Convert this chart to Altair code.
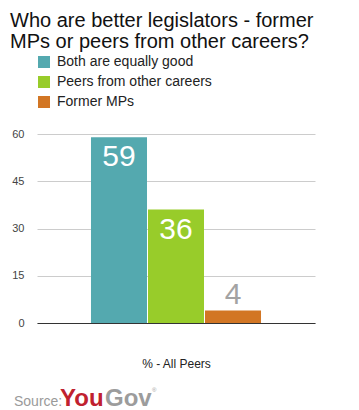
import altair as alt
import pandas as pd

# ---- data ----
categories = ["Both are equally good", "Peers from other careers", "Former MPs"]
values = [59, 36, 4]
colors = ["#54a9af", "#98cc2a", "#d27624"]
y_ticks = [0, 15, 30, 45, 60]
title_lines = ["Who are better legislators - former", "MPs or peers from other careers?"]
x_title = "% - All Peers"
source_label = ["Source:"]
brand_first = ["You"]
brand_second = ["Gov"]
brand_mark = ["®"]

FONT = "Liberation Sans"

df = pd.DataFrame({"category": categories, "value": values})
df["inside"] = df["value"] > 10

base = alt.Chart(df)

x_enc = alt.X(
    "category:N",
    sort=categories,
    scale=alt.Scale(domain=categories, paddingInner=0.0175, paddingOuter=0.947),
    axis=alt.Axis(
        labels=False, ticks=False, domain=True, domainColor="#333333", domainWidth=1,
        grid=False, title=x_title, titleFont=FONT, titleFontSize=12,
        titleFontWeight="normal", titleColor="#222222", titlePadding=35,
    ),
)
y_enc = alt.Y(
    "value:Q",
    scale=alt.Scale(domain=[0, 60], nice=False),
    axis=alt.Axis(
        values=y_ticks, title=None, domain=False, ticks=False, grid=True,
        gridColor="#cccccc", gridWidth=1, labelFont=FONT, labelFontSize=11,
        labelColor="#444444", labelPadding=13,
    ),
)

bars = base.mark_bar(stroke=None).encode(
    x=x_enc,
    y=y_enc,
    color=alt.Color(
        "category:N",
        scale=alt.Scale(domain=categories, range=colors),
        legend=alt.Legend(
            orient="none", legendX=0, legendY=-79, title=None, padding=0,
            symbolType="square", symbolSize=144, symbolStrokeWidth=0, symbolOpacity=1,
            labelFont=FONT, labelFontSize=14, labelColor="#222222", labelOffset=6,
            rowPadding=6, labelLimit=300,
        ),
    ),
)

inside_labels = base.transform_filter("datum.inside").mark_text(
    font=FONT, fontSize=30, color="#ffffff", baseline="top", dy=5
).encode(x=alt.X("category:N", sort=categories), y="value:Q", text="value:Q")

outside_labels = base.transform_filter("!datum.inside").mark_text(
    font=FONT, fontSize=30, color="#a3a3a3", baseline="alphabetic", dy=-6
).encode(x=alt.X("category:N", sort=categories), y="value:Q", text="value:Q")

src = alt.Chart(pd.DataFrame({"t": source_label})).mark_text(
    font=FONT, fontSize=14, color="#9a9a9a", align="left", baseline="alphabetic"
).encode(x=alt.value(-23), y=alt.value(272), text="t:N")

you = alt.Chart(pd.DataFrame({"t": brand_first})).mark_text(
    font=FONT, fontSize=24, fontWeight="bold", color="#c0212f", align="left", baseline="alphabetic"
).encode(x=alt.value(23), y=alt.value(272), text="t:N")

gov = alt.Chart(pd.DataFrame({"t": brand_second})).mark_text(
    font=FONT, fontSize=24, fontWeight="bold", color="#9c9c9c", align="left", baseline="alphabetic"
).encode(x=alt.value(68), y=alt.value(272), text="t:N")

reg = alt.Chart(pd.DataFrame({"t": brand_mark})).mark_text(
    font=FONT, fontSize=6, color="#9c9c9c", align="left", baseline="alphabetic"
).encode(x=alt.value(115), y=alt.value(258), text="t:N")

chart = alt.layer(bars, inside_labels, outside_labels, src, you, gov, reg).properties(
    width=278,
    height=189,
    padding={"left": 29, "top": 126, "right": 30, "bottom": 90},
    autosize=alt.AutoSizeParams(type="none"),
    title=alt.TitleParams(
        text=title_lines, anchor="start", frame="group", font=FONT, fontSize=20,
        fontWeight="normal", color="#111111", lineHeight=21, dx=-27, offset=3,
    ),
).configure_view(stroke=None)

chart.save("out.html", embed_options={"renderer": "svg", "actions": False})
